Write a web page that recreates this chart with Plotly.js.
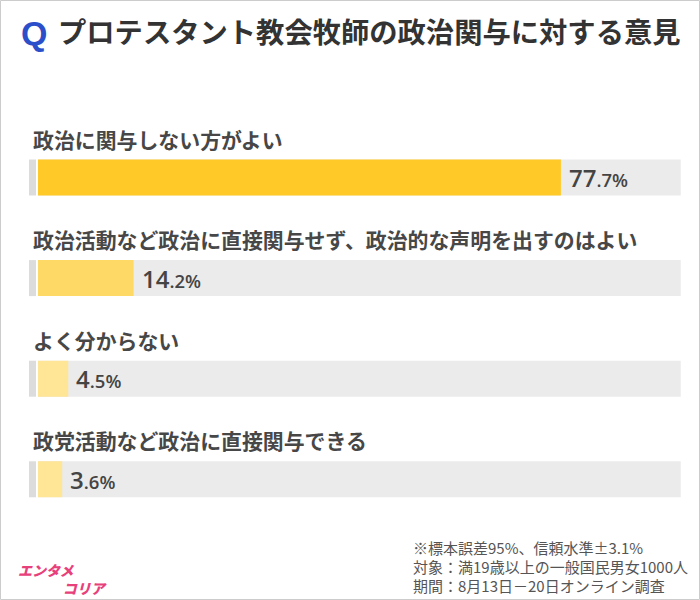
<!DOCTYPE html>
<html>
<head>
<meta charset="utf-8">
<script src="https://cdn.plot.ly/plotly-3.0.1.min.js"></script>
<style>
html,body{margin:0;padding:0;background:#fff;}
#chart{width:700px;height:600px;}
</style>
</head>
<body>
<div id="chart"></div>
<script>
const titleQ = "Q";
const titleText = "プロテスタント教会牧師の政治関与に対する意見";
const categories = [
  "政治に関与しない方がよい",
  "政治活動など政治に直接関与せず、政治的な声明を出すのはよい",
  "よく分からない",
  "政党活動など政治に直接関与できる"
];
const values = [77.7, 14.2, 4.5, 3.6];
const barColors = ["#ffca28", "#ffd966", "#ffe596", "#ffe596"];
const trackMax = 95.5;
const footnotes = [
  "※標本誤差95%、信頼水準±3.1%",
  "対象：満19歳以上の一般国民男女1000人",
  "期間：8月13日－20日オンライン調査"
];
const logoLine1 = "エンタメ";
const logoLine2 = "コリア";

const pxPerUnit = 6.73;      // px per percent
const x0px = 38;             // pixel of 0%
const W = 700, H = 600;
const xr = [-x0px / pxPerUnit, (W - x0px) / pxPerUnit];
const yUnit = 100.6, y0px = 177.5;
const yr = [3 + (H - (y0px + 3 * yUnit)) / yUnit, -y0px / yUnit];
const barW = 36 / yUnit;
const idx = categories.map((c, i) => i);

const traces = [
  {type: 'bar', orientation: 'h', y: idx, x: idx.map(() => trackMax), width: barW,
   marker: {color: '#ebebeb'}, hoverinfo: 'skip'},
  {type: 'bar', orientation: 'h', y: idx, x: idx.map(() => 7 / pxPerUnit), base: idx.map(() => -9 / pxPerUnit), width: barW,
   marker: {color: '#dcdcdc'}, hoverinfo: 'skip'},
  {type: 'bar', orientation: 'h', y: idx, x: values, width: barW,
   marker: {color: barColors}, hoverinfo: 'skip'}
];

const annotations = [];
annotations.push({
  x: 19 / W, y: 1 - 33 / H, xref: 'paper', yref: 'paper', text: titleQ,
  showarrow: false, xanchor: 'left', yanchor: 'middle',
  font: {family: '"Liberation Sans", Arial, sans-serif', size: 34, color: '#2b4fcb', weight: 700}
});
categories.forEach((c, i) => {
  annotations.push({
    x: (31 - x0px) / pxPerUnit, y: i - 39 / yUnit, xref: 'x', yref: 'y',
    text: c, showarrow: false, xanchor: 'left', yanchor: 'middle',
    font: {family: '"Noto Sans CJK JP", sans-serif', size: 20.9, color: '#474747', weight: 700}
  });
  const [ip, dp] = values[i].toFixed(1).split('.');
  annotations.push({
    x: values[i], y: i, xref: 'x', yref: 'y', xshift: 6,
    text: '<span style="font-size:24px">' + ip + '</span>.' + dp + '%',
    showarrow: false, xanchor: 'left', yanchor: 'middle',
    font: {family: '"Open Sans", "Noto Sans", sans-serif', size: 18.5, color: '#444444', weight: 600}
  });
});
footnotes.forEach((t, i) => {
  annotations.push({
    x: 411 / W, y: 1 - (547 + i * 19) / H, xref: 'paper', yref: 'paper',
    text: t, showarrow: false, xanchor: 'left', yanchor: 'middle',
    font: {family: '"Noto Sans CJK JP", sans-serif', size: 15, color: '#555555'}
  });
});
annotations.push({
  x: 16 / W, y: 1 - 579 / H, xref: 'paper', yref: 'paper',
  text: '<i>' + logoLine1 + '<br>\u3000\u3000\u3000\u2009' + logoLine2 + '</i>',
  showarrow: false, xanchor: 'left', yanchor: 'middle', align: 'left',
  font: {family: '"Noto Sans CJK JP", sans-serif', size: 14, color: '#e8407a', weight: 900}
});

const layout = {
  width: W, height: H,
  margin: {l: 0, r: 0, t: 0, b: 0, pad: 0},
  paper_bgcolor: '#ffffff', plot_bgcolor: '#ffffff',
  showlegend: false, barmode: 'overlay',
  title: {
    text: titleText,
    x: 58 / W, xanchor: 'left', xref: 'paper', y: 1 - 33 / H, yanchor: 'middle', yref: 'paper',
    font: {family: '"Noto Sans CJK JP", sans-serif', size: 28.3, color: '#333333', weight: 700}
  },
  xaxis: {range: xr, showgrid: false, zeroline: false, showticklabels: false, showline: false, fixedrange: true},
  yaxis: {range: yr, showgrid: false, zeroline: false, showticklabels: false, showline: false, fixedrange: true},
  annotations: annotations,
  shapes: [{type: 'rect', xref: 'paper', yref: 'paper', x0: 0.5 / W, x1: 1 - 0.5 / W, y0: 0.5 / H, y1: 1 - 0.5 / H,
            line: {color: '#cccccc', width: 1}, fillcolor: 'rgba(0,0,0,0)'}]
};

Plotly.newPlot('chart', traces, layout, {displayModeBar: false, staticPlot: true});
</script>
</body>
</html>
